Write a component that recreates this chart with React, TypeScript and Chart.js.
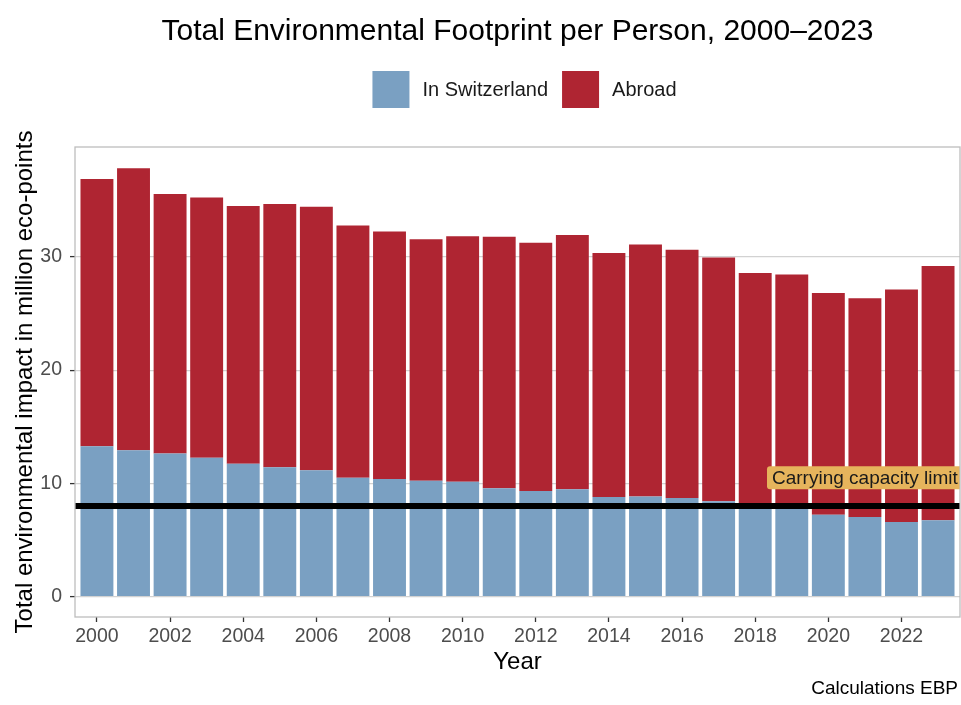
import React, { useEffect, useRef } from "react";
import { Chart, registerables } from "chart.js";

Chart.register(...registerables);

// ---- data ----
const years = [
  2000, 2001, 2002, 2003, 2004, 2005, 2006, 2007, 2008, 2009, 2010, 2011,
  2012, 2013, 2014, 2015, 2016, 2017, 2018, 2019, 2020, 2021, 2022, 2023,
];
const inSwitzerland = [
  13.27, 12.92, 12.63, 12.27, 11.74, 11.42, 11.15, 10.5, 10.38, 10.24, 10.15,
  9.56, 9.32, 9.47, 8.79, 8.85, 8.7, 8.41, 8.1, 7.9, 7.23, 7.02, 6.58, 6.75,
];
const abroad = [
  23.61, 24.9, 22.92, 22.98, 22.75, 23.24, 23.27, 22.27, 21.86, 21.32, 21.68,
  22.21, 21.92, 22.45, 21.56, 22.24, 21.92, 21.53, 20.48, 20.54, 19.58, 19.32,
  20.53, 22.45,
];
const yTicks = [0, 10, 20, 30];
const xTicks = [2000, 2002, 2004, 2006, 2008, 2010, 2012, 2014, 2016, 2018, 2020, 2022];
const carryingCapacity = 8;
const limitLabel = "Carrying capacity limit";
const limitLabelYear = 2021;
const limitLabelValue = 10.5;

const seriesNames = ["In Switzerland", "Abroad"];
const seriesColors = ["#7AA0C2", "#AF2532"];
const titleText = "Total Environmental Footprint per Person, 2000\u20132023";
const xTitle = "Year";
const yTitle = "Total environmental impact in million eco-points";
const captionText = "Calculations EBP";

const FONT = '"Liberation Sans", Arial, Helvetica, sans-serif';

const decorPlugin = {
  id: "decor",
  afterDatasetsDraw(chart: any) {
    const { ctx, chartArea: a, scales } = chart;
    ctx.save();
    ctx.beginPath();
    ctx.rect(a.left, a.top, a.right - a.left, a.bottom - a.top);
    ctx.clip();
    // carrying capacity line
    const y = scales.y.getPixelForValue(carryingCapacity);
    ctx.strokeStyle = "#000000";
    ctx.lineWidth = 6;
    ctx.beginPath();
    ctx.moveTo(a.left, y);
    ctx.lineTo(a.right, y);
    ctx.stroke();
    // label
    ctx.font = `19px ${FONT}`;
    const tw = ctx.measureText(limitLabel).width;
    const cx = scales.x.getPixelForValue(limitLabelYear);
    const cy = scales.y.getPixelForValue(limitLabelValue);
    const bw = tw + 10;
    const bh = 23;
    ctx.fillStyle = "#E6B45C";
    ctx.beginPath();
    if ((ctx as any).roundRect) {
      (ctx as any).roundRect(cx - bw / 2, cy - bh / 2, bw, bh, 3);
    } else {
      ctx.rect(cx - bw / 2, cy - bh / 2, bw, bh);
    }
    ctx.fill();
    ctx.fillStyle = "#1A1A1A";
    ctx.textAlign = "center";
    ctx.textBaseline = "middle";
    ctx.fillText(limitLabel, cx, cy + 1);
    ctx.restore();
  },
  afterDraw(chart: any) {
    const { ctx, chartArea: a } = chart;
    ctx.save();
    // panel border
    ctx.strokeStyle = "#BDBDBD";
    ctx.lineWidth = 1.3;
    ctx.strokeRect(a.left, a.top, a.right - a.left, a.bottom - a.top);

    const panelCenter = (a.left + a.right) / 2;
    // title
    ctx.fillStyle = "#000000";
    ctx.font = `30px ${FONT}`;
    ctx.textAlign = "center";
    ctx.textBaseline = "alphabetic";
    ctx.fillText(titleText, panelCenter, 40);

    // legend
    ctx.font = `20px ${FONT}`;
    const key = 37;
    const gapText = 13;
    const gapItem = 14;
    const widths = seriesNames.map((n) => ctx.measureText(n).width);
    let total = 0;
    widths.forEach((w, i) => {
      total += key + gapText + w + (i < widths.length - 1 ? gapItem : 0);
    });
    let x = panelCenter + 7 - total / 2;
    const keyTop = 71;
    seriesNames.forEach((n, i) => {
      ctx.fillStyle = seriesColors[i];
      ctx.fillRect(x, keyTop, key, key);
      ctx.fillStyle = "#1A1A1A";
      ctx.textAlign = "left";
      ctx.textBaseline = "middle";
      ctx.fillText(n, x + key + gapText, keyTop + key / 2 + 0.5);
      x += key + gapText + widths[i] + gapItem;
    });

    // caption
    ctx.font = `19px ${FONT}`;
    ctx.fillStyle = "#000000";
    ctx.textAlign = "right";
    ctx.textBaseline = "alphabetic";
    ctx.fillText(captionText, 958, 694);
    ctx.restore();
  },
};

export default function App() {
  const ref = useRef<HTMLCanvasElement | null>(null);

  useEffect(() => {
    if (!ref.current) return;
    const chart = new Chart(ref.current, {
      type: "bar",
      data: {
        labels: years,
        datasets: [
          {
            label: seriesNames[0],
            data: inSwitzerland,
            backgroundColor: seriesColors[0],
            borderWidth: 0,
            categoryPercentage: 0.9,
            barPercentage: 1.0,
          },
          {
            label: seriesNames[1],
            data: abroad,
            backgroundColor: seriesColors[1],
            borderWidth: 0,
            categoryPercentage: 0.9,
            barPercentage: 1.0,
          },
        ],
      },
      options: {
        responsive: false,
        animation: false,
        devicePixelRatio: 1,
        layout: { padding: { top: 147, right: 1, bottom: 28, left: 0 } },
        plugins: {
          legend: { display: false },
          title: { display: false },
          tooltip: { enabled: false },
        },
        scales: {
          x: {
            type: "linear",
            stacked: true,
            min: 1999.4,
            max: 2023.6,
            offset: false,
            afterBuildTicks: (s: any) => {
              s.ticks = xTicks.map((v) => ({ value: v }));
            },
            afterFit: (s: any) => {
              s.height = 60;
            },
            ticks: {
              autoSkip: false,
              maxRotation: 0,
              padding: 3,
              color: "#4D4D4D",
              font: { family: FONT, size: 19.5 },
              callback: (v: any) => String(v),
            },
            grid: {
              offset: false,
              drawOnChartArea: false,
              drawTicks: true,
              tickLength: 5,
              tickColor: "#333333",
              tickWidth: 1.3,
            },
            border: { display: false },
            title: {
              display: true,
              text: xTitle,
              color: "#000000",
              font: { family: FONT, size: 24 },
              padding: { top: 0, bottom: 0 },
            },
          },
          y: {
            stacked: true,
            min: -1.8,
            max: 39.7,
            afterBuildTicks: (s: any) => {
              s.ticks = yTicks.map((v) => ({ value: v }));
            },
            afterFit: (s: any) => {
              s.width = 75;
            },
            ticks: {
              padding: 8,
              color: "#4D4D4D",
              font: { family: FONT, size: 19.5 },
              callback: (v: any) => String(v),
            },
            grid: {
              color: "#D2D2D2",
              lineWidth: 1.2,
              drawTicks: true,
              tickLength: 5,
              tickColor: "#333333",
              tickWidth: 1.3,
            },
            border: { display: false },
            title: {
              display: true,
              text: yTitle,
              color: "#000000",
              font: { family: FONT, size: 24 },
              padding: { top: 10.6, bottom: 0 },
            },
          },
        },
      },
      plugins: [decorPlugin],
    } as any);
    return () => chart.destroy();
  }, []);

  return (
    <div style={{ position: "absolute", left: 0, top: 0, width: 961, height: 705, background: "#ffffff" }}>
      <canvas ref={ref} width={961} height={705} style={{ display: "block" }} />
    </div>
  );
}
